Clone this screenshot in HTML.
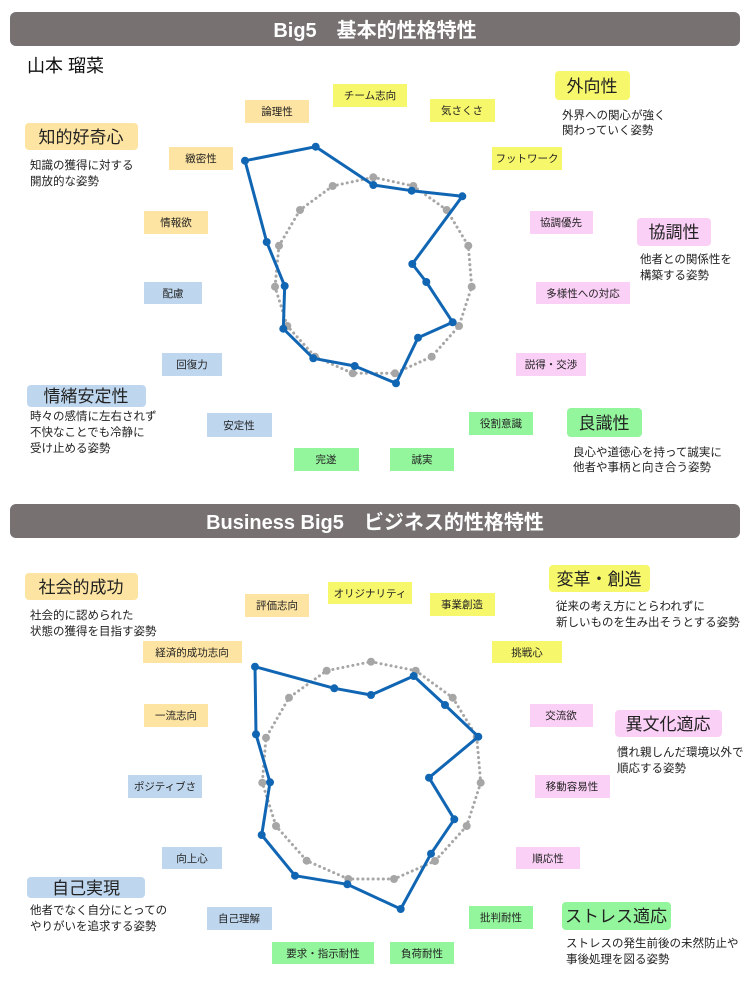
<!DOCTYPE html>
<html><head><meta charset="utf-8"><style>
html,body{margin:0;padding:0;background:#fff;}
svg{display:block;}
text{font-family:"Liberation Sans","Noto Sans CJK JP",sans-serif;}
.l{font-size:10.5px;fill:#222;text-anchor:middle;}
.g{font-size:17px;fill:#222;text-anchor:middle;}
.d{font-size:11.5px;fill:#222;}
.h{font-size:20px;fill:#fff;font-weight:bold;text-anchor:middle;}
.Y{fill:#f7f76c}.O{fill:#fde4a2}.P{fill:#fbd0f6}.B{fill:#bfd7ee}.G{fill:#93f59c}
</style></head><body>
<svg width="750" height="1000" viewBox="0 0 750 1000" xmlns="http://www.w3.org/2000/svg">
<rect x="10" y="12" width="730" height="34" rx="6" fill="#777271"/>
<text class="h" x="375" y="37">Big5　基本的性格特性</text>
<rect x="10" y="504" width="730" height="34" rx="6" fill="#777271"/>
<text class="h" x="375" y="529">Business Big5　ビジネス的性格特性</text>
<text x="27" y="72" style="font-size:18px;fill:#111">山本  瑠菜</text>

<!-- top labels -->
<rect class="Y" x="333" y="84" width="74" height="23"/><text class="l" x="370" y="99">チーム志向</text>
<rect class="O" x="245" y="100" width="64" height="23"/><text class="l" x="277" y="115">論理性</text>
<rect class="Y" x="430" y="99" width="65" height="23"/><text class="l" x="462" y="114">気さくさ</text>
<rect class="Y" x="492" y="147" width="70" height="23"/><text class="l" x="527" y="162">フットワーク</text>
<rect class="O" x="169" y="147" width="64" height="23"/><text class="l" x="201" y="162">緻密性</text>
<rect class="O" x="144" y="211" width="64" height="23"/><text class="l" x="176" y="226">情報欲</text>
<rect class="P" x="530" y="211" width="63" height="23"/><text class="l" x="561" y="226">協調優先</text>
<rect class="B" x="144" y="282" width="58" height="22"/><text class="l" x="173" y="297">配慮</text>
<rect class="P" x="536" y="282" width="94" height="22"/><text class="l" x="583" y="297">多様性への対応</text>
<rect class="B" x="162" y="353" width="60" height="23"/><text class="l" x="192" y="368">回復力</text>
<rect class="P" x="516" y="353" width="70" height="23"/><text class="l" x="551" y="368">説得・交渉</text>
<rect class="B" x="207" y="413" width="65" height="24"/><text class="l" x="239" y="429">安定性</text>
<rect class="G" x="469" y="412" width="64" height="23"/><text class="l" x="501" y="427">役割意識</text>
<rect class="G" x="294" y="448" width="65" height="23"/><text class="l" x="326" y="463">完遂</text>
<rect class="G" x="390" y="448" width="64" height="23"/><text class="l" x="422" y="463">誠実</text>

<!-- top groups -->
<rect class="O" x="25" y="123" width="113" height="27" rx="4"/><text class="g" x="81" y="143">知的好奇心</text>
<text class="d" x="30" y="169">知識の獲得に対する</text><text class="d" x="30" y="185">開放的な姿勢</text>
<rect class="Y" x="555" y="71" width="75" height="29" rx="4"/><text class="g" x="592" y="92">外向性</text>
<text class="d" x="562" y="119">外界への関心が強く</text><text class="d" x="562" y="134">関わっていく姿勢</text>
<rect class="P" x="637" y="218" width="74" height="28" rx="4"/><text class="g" x="674" y="238">協調性</text>
<text class="d" x="640" y="263">他者との関係性を</text><text class="d" x="640" y="279">構築する姿勢</text>
<rect class="B" x="27" y="385" width="119" height="22" rx="4"/><text class="g" x="86" y="402">情緒安定性</text>
<text class="d" x="30" y="420">時々の感情に左右されず</text><text class="d" x="30" y="436">不快なことでも冷静に</text><text class="d" x="30" y="452">受け止める姿勢</text>
<rect class="G" x="567" y="408" width="75" height="29" rx="4"/><text class="g" x="604" y="429">良識性</text>
<text class="d" x="573" y="456">良心や道徳心を持って誠実に</text><text class="d" x="573" y="471">他者や事柄と向き合う姿勢</text>

<!-- top chart -->
<polygon points="373.3,177.3 413.3,186 446.7,210 468.3,245.7 471.7,286.7 459,326 431.7,356.7 395,373.3 352.7,373.3 315,356.7 287.3,326 275,286.7 279,245.7 300,210 332.7,186" fill="none" stroke="#a6a6a6" stroke-width="3" stroke-dasharray="0.1,5" stroke-linecap="round"/>
<g fill="#a6a6a6"><circle cx="373.3" cy="177.3" r="4"/><circle cx="413.3" cy="186" r="4"/><circle cx="446.7" cy="210" r="4"/><circle cx="468.3" cy="245.7" r="4"/><circle cx="471.7" cy="286.7" r="4"/><circle cx="459" cy="326" r="4"/><circle cx="431.7" cy="356.7" r="4"/><circle cx="395" cy="373.3" r="4"/><circle cx="352.7" cy="373.3" r="4"/><circle cx="315" cy="356.7" r="4"/><circle cx="287.3" cy="326" r="4"/><circle cx="275" cy="286.7" r="4"/><circle cx="279" cy="245.7" r="4"/><circle cx="300" cy="210" r="4"/><circle cx="332.7" cy="186" r="4"/></g>
<polygon points="315.7,146.7 373.3,185 411.7,190.7 462.3,196.3 412.3,264 426.3,282 452.7,322.3 418,337.7 396,383.3 354.7,366 313.3,358.3 283.3,328.7 284.7,286 266.7,242 245,160.7" fill="none" stroke="#1166b4" stroke-width="3" stroke-linejoin="round"/>
<g fill="#1166b4"><circle cx="315.7" cy="146.7" r="4"/><circle cx="373.3" cy="185" r="4"/><circle cx="411.7" cy="190.7" r="4"/><circle cx="462.3" cy="196.3" r="4"/><circle cx="412.3" cy="264" r="4"/><circle cx="426.3" cy="282" r="4"/><circle cx="452.7" cy="322.3" r="4"/><circle cx="418" cy="337.7" r="4"/><circle cx="396" cy="383.3" r="4"/><circle cx="354.7" cy="366" r="4"/><circle cx="313.3" cy="358.3" r="4"/><circle cx="283.3" cy="328.7" r="4"/><circle cx="284.7" cy="286" r="4"/><circle cx="266.7" cy="242" r="4"/><circle cx="245" cy="160.7" r="4"/></g>

<!-- bottom labels -->
<rect class="Y" x="328" y="582" width="84" height="22"/><text class="l" x="370" y="597">オリジナリティ</text>
<rect class="O" x="245" y="594" width="64" height="23"/><text class="l" x="277" y="609">評価志向</text>
<rect class="Y" x="430" y="593" width="65" height="23"/><text class="l" x="462" y="608">事業創造</text>
<rect class="O" x="143" y="641" width="99" height="22"/><text class="l" x="192" y="656">経済的成功志向</text>
<rect class="Y" x="492" y="641" width="70" height="22"/><text class="l" x="527" y="656">挑戦心</text>
<rect class="O" x="144" y="704" width="64" height="23"/><text class="l" x="176" y="719">一流志向</text>
<rect class="P" x="530" y="704" width="63" height="23"/><text class="l" x="561" y="719">交流欲</text>
<rect class="B" x="128" y="775" width="74" height="23"/><text class="l" x="165" y="790">ポジティブさ</text>
<rect class="P" x="535" y="775" width="75" height="23"/><text class="l" x="572" y="790">移動容易性</text>
<rect class="B" x="162" y="847" width="60" height="22"/><text class="l" x="192" y="862">向上心</text>
<rect class="P" x="516" y="847" width="64" height="22"/><text class="l" x="548" y="862">順応性</text>
<rect class="B" x="207" y="907" width="65" height="23"/><text class="l" x="239" y="922">自己理解</text>
<rect class="G" x="469" y="906" width="64" height="23"/><text class="l" x="501" y="921">批判耐性</text>
<rect class="G" x="272" y="942" width="102" height="22"/><text class="l" x="323" y="957">要求・指示耐性</text>
<rect class="G" x="390" y="942" width="64" height="22"/><text class="l" x="422" y="957">負荷耐性</text>

<!-- bottom groups -->
<rect class="O" x="25" y="573" width="113" height="27" rx="4"/><text class="g" x="81" y="593">社会的成功</text>
<text class="d" x="30" y="619">社会的に認められた</text><text class="d" x="30" y="635">状態の獲得を目指す姿勢</text>
<rect class="Y" x="549" y="565" width="101" height="27" rx="4"/><text class="g" x="599" y="585">変革・創造</text>
<text class="d" x="556" y="610">従来の考え方にとらわれずに</text><text class="d" x="556" y="626">新しいものを生み出そうとする姿勢</text>
<rect class="P" x="615" y="710" width="107" height="27" rx="4"/><text class="g" x="668" y="730">異文化適応</text>
<text class="d" x="617" y="756">慣れ親しんだ環境以外で</text><text class="d" x="617" y="772">順応する姿勢</text>
<rect class="B" x="27" y="877" width="118" height="21" rx="4"/><text class="g" x="86" y="894">自己実現</text>
<text class="d" x="30" y="914">他者でなく自分にとっての</text><text class="d" x="30" y="930">やりがいを追求する姿勢</text>
<rect class="G" x="562" y="902" width="109" height="28" rx="4"/><text class="g" x="616" y="922">ストレス適応</text>
<text class="d" x="566" y="947">ストレスの発生前後の未然防止や</text><text class="d" x="566" y="963">事後処理を図る姿勢</text>

<!-- bottom chart -->
<polygon points="371,661.7 415.7,670.7 452.7,697.7 476.7,736.7 480.7,782.7 466.7,826 435,861 394,879 348.3,879 306.7,860.7 276,826 262.3,782.7 266,737.7 289,697.7 326.7,670.7" fill="none" stroke="#a6a6a6" stroke-width="3" stroke-dasharray="0.1,5" stroke-linecap="round"/>
<g fill="#a6a6a6"><circle cx="371" cy="661.7" r="4"/><circle cx="415.7" cy="670.7" r="4"/><circle cx="452.7" cy="697.7" r="4"/><circle cx="476.7" cy="736.7" r="4"/><circle cx="480.7" cy="782.7" r="4"/><circle cx="466.7" cy="826" r="4"/><circle cx="435" cy="861" r="4"/><circle cx="394" cy="879" r="4"/><circle cx="348.3" cy="879" r="4"/><circle cx="306.7" cy="860.7" r="4"/><circle cx="276" cy="826" r="4"/><circle cx="262.3" cy="782.7" r="4"/><circle cx="266" cy="737.7" r="4"/><circle cx="289" cy="697.7" r="4"/><circle cx="326.7" cy="670.7" r="4"/></g>
<polygon points="255,666.7 334.3,688.3 371,695 413.7,676 445,705 478.3,736.7 429,777.7 454.3,819.3 431,853.7 400.7,909 347.3,884.3 295,875.7 261.7,835 270,782.3 256,734.3" fill="none" stroke="#1166b4" stroke-width="3" stroke-linejoin="round"/>
<g fill="#1166b4"><circle cx="255" cy="666.7" r="4"/><circle cx="334.3" cy="688.3" r="4"/><circle cx="371" cy="695" r="4"/><circle cx="413.7" cy="676" r="4"/><circle cx="445" cy="705" r="4"/><circle cx="478.3" cy="736.7" r="4"/><circle cx="429" cy="777.7" r="4"/><circle cx="454.3" cy="819.3" r="4"/><circle cx="431" cy="853.7" r="4"/><circle cx="400.7" cy="909" r="4"/><circle cx="347.3" cy="884.3" r="4"/><circle cx="295" cy="875.7" r="4"/><circle cx="261.7" cy="835" r="4"/><circle cx="270" cy="782.3" r="4"/><circle cx="256" cy="734.3" r="4"/></g>
</svg>
</body></html>
